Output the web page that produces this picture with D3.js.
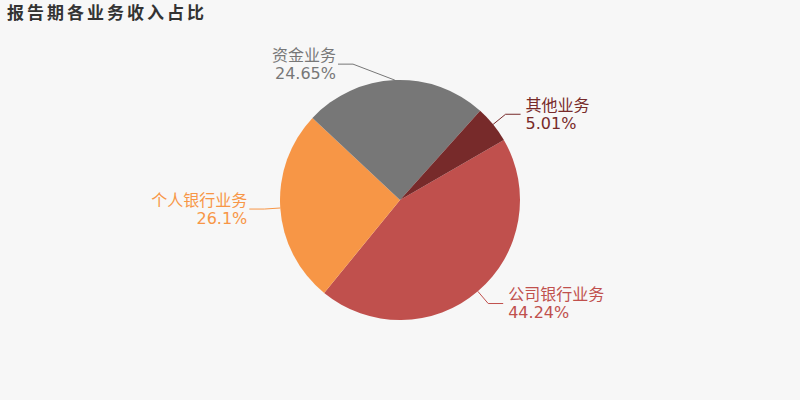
<!DOCTYPE html>
<html><head><meta charset="utf-8">
<script src="https://cdn.jsdelivr.net/npm/d3@7"></script>
<style>
html,body{margin:0;padding:0;background:#f7f7f7;}
svg{display:block;font-family:"DejaVu Sans","Noto Sans CJK SC",sans-serif;}
</style></head>
<body>
<script>
const title = "报告期各业务收入占比";
const categories = ["公司银行业务", "个人银行业务", "资金业务", "其他业务"];
const values = [44.24, 26.1, 24.65, 5.01];
const labels = ["44.24%", "26.1%", "24.65%", "5.01%"];
const colors = ["#c0504d", "#f79646", "#777777", "#772a2a"];

const W = 800, H = 400, cx = 400, cy = 200, R = 120;
const svg = d3.select("body").append("svg").attr("width", W).attr("height", H);
svg.append("rect").attr("width", W).attr("height", H).attr("fill", "#f7f7f7");

svg.append("text").attr("x", 7).attr("y", 13).attr("dominant-baseline", "central")
  .attr("font-size", 17).attr("font-weight", "bold").attr("letter-spacing", 3)
  .attr("fill", "#333").text(title);

const data = categories.map((c, i) => ({name: c, value: values[i], label: labels[i], color: colors[i]}));
const total = d3.sum(values);
const startDeg = 360 * (values[3] / total) + 41.9;
const pie = d3.pie().sort(null).value(d => d.value)
  .startAngle(startDeg * Math.PI / 180).endAngle(startDeg * Math.PI / 180 + 2 * Math.PI);
const arcs = pie(data);
const arc = d3.arc().innerRadius(0).outerRadius(R);

const g = svg.append("g").attr("transform", `translate(${cx},${cy})`);
g.selectAll("path.slice").data(arcs).enter().append("path")
  .attr("d", arc).attr("fill", d => d.data.color);

const r2 = 136, hLen = 15, minDx = 47;
arcs.forEach(d => {
  const a = (d.startAngle + d.endAngle) / 2;
  const p0 = [R * Math.sin(a), -R * Math.cos(a)];
  let ex = r2 * Math.sin(a);
  const ey = -r2 * Math.cos(a);
  const right = Math.sin(a) >= 0;
  if (Math.abs(ex) < minDx) ex = right ? minDx : -minDx;
  const p2 = [ex + (right ? hLen : -hLen), ey];
  g.append("polyline").attr("points", [p0, [ex, ey], p2].map(p => p.join(",")).join(" "))
    .attr("fill", "none").attr("stroke", d.data.color).attr("stroke-width", 1);
  const tx = p2[0] + (right ? 5 : -2);
  const anchor = right ? "start" : "end";
  g.append("text").attr("x", tx).attr("y", ey - 9).attr("dominant-baseline", "central")
    .attr("text-anchor", anchor).attr("font-size", 16).attr("fill", d.data.color).text(d.data.name);
  g.append("text").attr("x", tx).attr("y", ey + 9).attr("dominant-baseline", "central")
    .attr("text-anchor", anchor).attr("font-size", 16).attr("fill", d.data.color).text(d.data.label);
});
</script>
</body></html>
